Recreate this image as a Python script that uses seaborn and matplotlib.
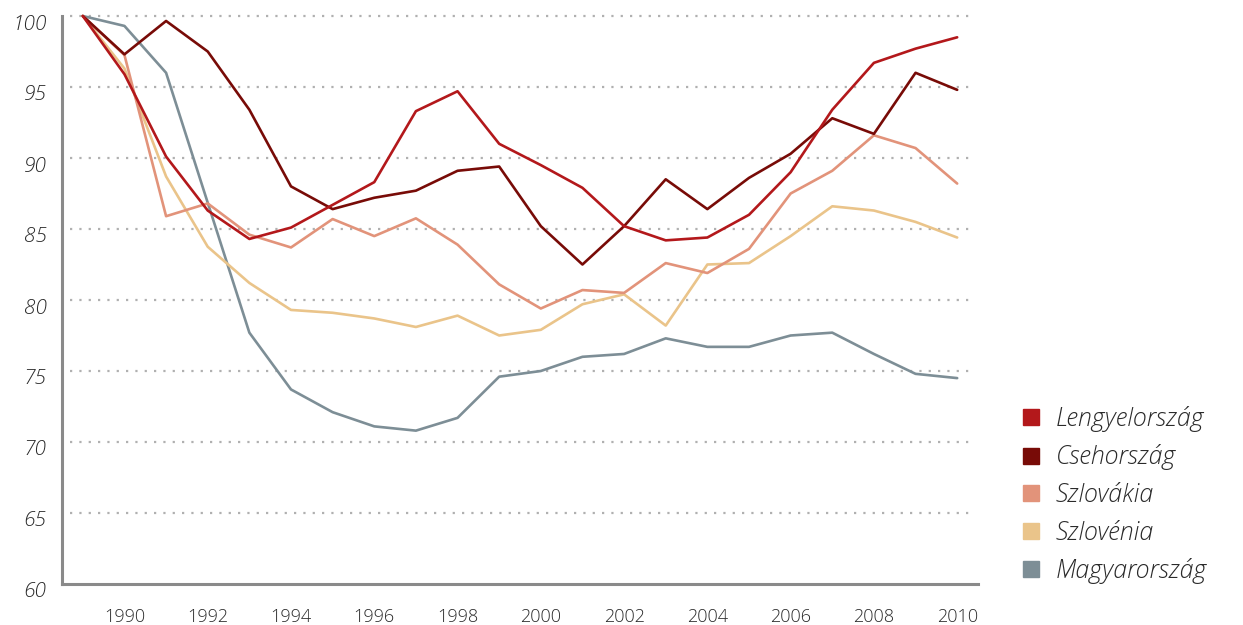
import numpy as np
import pandas as pd
import matplotlib
matplotlib.use("Agg")
import matplotlib.pyplot as plt
import matplotlib.transforms as mtrans
import seaborn as sns
from matplotlib.lines import Line2D

# Data (index, 1989 = 100)
years = list(range(1989, 2011))

lengyelorszag = [100, 95.9, 90.1, 86.3, 84.3, 85.1, 86.7, 88.3, 93.3, 94.7, 91.0,
                 89.5, 87.9, 85.2, 84.2, 84.4, 86.0, 89.0, 93.4, 96.7, 97.7, 98.5]
csehorszag = [100, 97.3, 99.65, 97.5, 93.4, 88.0, 86.4, 87.2, 87.7, 89.1, 89.4,
              85.2, 82.5, 85.2, 88.5, 86.4, 88.6, 90.3, 92.8, 91.7, 96.0, 94.8]
szlovakia = [100, 97.25, 85.9, 86.8, 84.6, 83.7, 85.7, 84.5, 85.75, 83.9, 81.1,
             79.4, 80.7, 80.5, 82.6, 81.9, 83.6, 87.5, 89.1, 91.6, 90.7, 88.2]
szlovenia = [100, 96.3, 88.7, 83.75, 81.2, 79.3, 79.1, 78.7, 78.1, 78.9, 77.5,
             77.9, 79.7, 80.4, 78.2, 82.5, 82.6, 84.5, 86.6, 86.3, 85.5, 84.4]
magyarorszag = [100, 99.3, 96.0, 86.85, 77.7, 73.7, 72.1, 71.1, 70.8, 71.7, 74.6,
                75.0, 76.0, 76.2, 77.3, 76.7, 76.7, 77.5, 77.7, 76.2, 74.8, 74.5]

countries = ["Lengyelország", "Csehország", "Szlovákia", "Szlovénia", "Magyarország"]
colors = ["#B3181B", "#780B07", "#E2937A", "#EAC48A", "#7D8E96"]

series = [lengyelorszag, csehorszag, szlovakia, szlovenia, magyarorszag]
df = pd.DataFrame({
    "year": years * len(countries),
    "value": [v for s in series for v in s],
    "country": [c for c in countries for _ in years],
})

sns.set_style("white")
plt.rcParams["font.family"] = ["Open Sans", "DejaVu Sans"]
text_col = "#2a2a2a"

fig = plt.figure(figsize=(12.43, 6.25), dpi=100)
ax = fig.add_axes([62 / 1243, 1 - 584 / 625, (978 - 62) / 1243, (584 - 16) / 625])

# draw last country first so Lengyelország ends up on top
for name, col, z in zip(countries[::-1], colors[::-1], range(3, 8)):
    sub = df[df["country"] == name]
    sns.lineplot(data=sub, x="year", y="value", color=col, linewidth=1.9,
                 ax=ax, zorder=z, legend=False)
for line in ax.lines:
    line.set_clip_on(False)

ax.set_xlim(1988.5, 2010.5)
ax.set_ylim(60, 100)
ax.set_xlabel("")
ax.set_ylabel("")

# dotted horizontal grid
for yv in range(65, 101, 5):
    ax.plot([1988.7, 2010.3], [yv, yv], linestyle=(0, (1, 3.2)), color="#b0b0b0",
            linewidth=1.6, zorder=1, clip_on=False)

for side in ["top", "right"]:
    ax.spines[side].set_visible(False)
for side in ["left", "bottom"]:
    ax.spines[side].set_color("#8a8a8a")
    ax.spines[side].set_linewidth(2.2)

ax.set_yticks(range(60, 101, 5))
ax.set_yticklabels([str(v) for v in range(60, 101, 5)], fontsize=15, color=text_col,
                   fontstyle="italic", fontweight="light")
ax.tick_params(axis="y", length=0, pad=11)
# y labels sit a little below their gridline in the reference
offset = mtrans.ScaledTranslation(0, -6 / 100, fig.dpi_scale_trans)
for lbl in ax.get_yticklabels():
    lbl.set_transform(lbl.get_transform() + offset)

ax.set_xticks(range(1990, 2011, 2))
ax.set_xticklabels([str(v) for v in range(1990, 2011, 2)], fontsize=13,
                   color=text_col, fontweight="light")
ax.set_xticks(np.arange(1989.5, 2010.6, 1), minor=True)
ax.tick_params(axis="x", which="major", length=0, pad=17)
ax.tick_params(axis="x", which="minor", direction="in", length=9, width=2.2,
               color="#8a8a8a")

handles = [Line2D([], [], marker="s", linestyle="none", markersize=12,
                  markerfacecolor=c, markeredgecolor=c) for c in colors]
fig.legend(handles, countries, loc="center left",
           bbox_to_anchor=(993 / 1243, 1 - 495 / 625),
           frameon=False, handletextpad=0.4, handlelength=1.2, labelspacing=0.5,
           prop={"family": ["Open Sans", "DejaVu Sans"], "size": 18,
                 "style": "italic", "weight": "light"},
           labelcolor=text_col)

fig.savefig("out.png", dpi=100)
